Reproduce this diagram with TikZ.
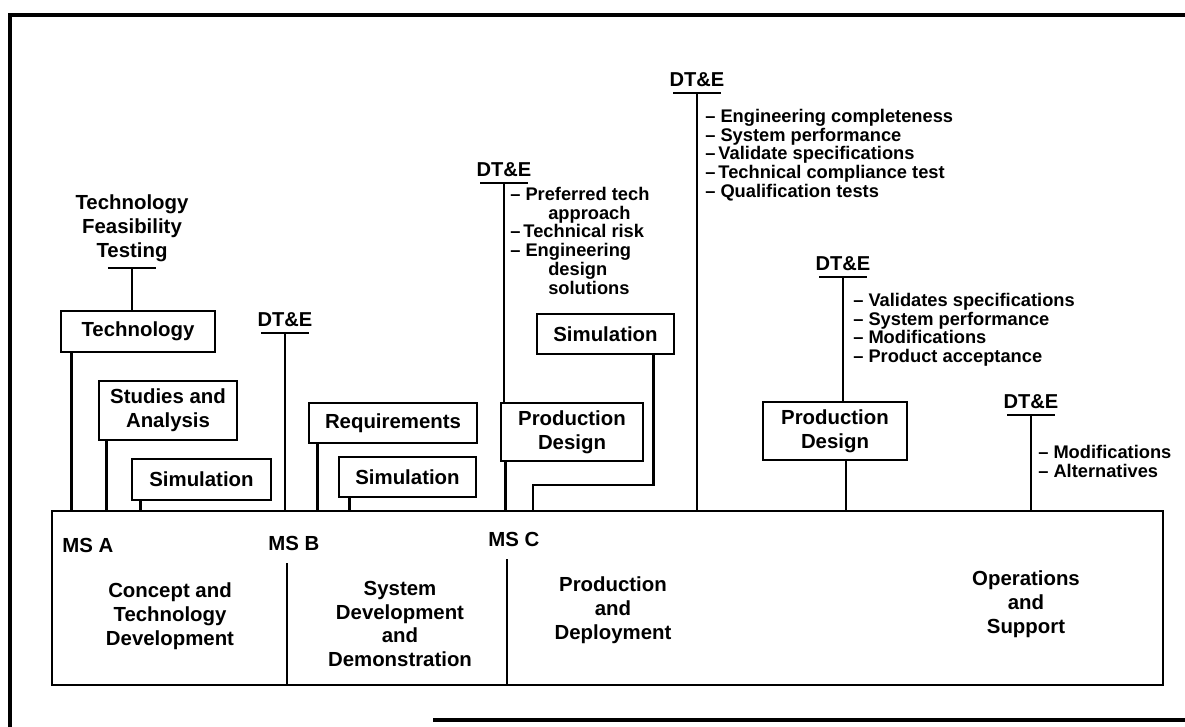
\documentclass[tikz,border=0pt]{standalone}
\usepackage{fontspec}
\setmainfont{Liberation Sans}
\usetikzlibrary{calc,positioning}

\tikzset{
	stage/.style={draw, line width=1.9pt, align=center, inner sep=0pt, font=\fontsize{14.5}{17}\selectfont\bfseries},
	phase/.style={align=center, inner sep=0pt, font=\fontsize{14.5}{17}\selectfont\bfseries},
	mslabel/.style={anchor=west, inner sep=0pt, font=\fontsize{14.5}{17}\selectfont\bfseries},
	dtelabel/.style={inner sep=0pt, font=\fontsize{14.3}{17}\selectfont\bfseries},
	notes/.style={anchor=north west, align=left, inner sep=0pt, font=\fontsize{13}{13.3}\selectfont\bfseries},
	stem/.style={line width=1.9pt},
	bar/.style={line width=2pt},
}

\begin{document}
\begin{tikzpicture}[x=0.025cm, y=-0.025cm]
	%%%%% START %%%%%
	\useasboundingbox (0,0) rectangle (1185,727);
	
	% frame
	\draw[line width=2.2pt] (10,727) -- (10,15) -- (1185,15);
	\draw[line width=2.2pt] (433,720) -- (1185,720);
	
	% life cycle
	\node[draw, line width=1.9pt, minimum width=27.775cm, minimum height=4.35cm, inner sep=0pt] (cycle) at (607.5,598) {};
	\node[mslabel] (msa) at (62,545) {MS A};
	\node[mslabel] (msb) at (268,543) {MS B};
	\node[mslabel] (msc) at (488,539) {MS C};
	\coordinate (divb) at (287,563);
	\coordinate (divc) at (507,559);
	\draw[stem] (divb) -- (divb |- cycle.south);
	\draw[stem] (divc) -- (divc |- cycle.south);
	
	\node[phase] (ctd) at (170,616) {Concept and\\Technology\\Development};
	\node[phase] (sdd) at (400,624) {System\\Development\\and\\Demonstration};
	\node[phase] (pad) at (613,610) {Production\\and\\Deployment};
	\node[phase] (oas) at (1026,604) {Operations\\and\\Support};
	
	% activities
	\node[stage, minimum width=3.85cm, minimum height=1.025cm] (tech) at (138,331.5) {Technology};
	\node[stage, minimum width=3.45cm, minimum height=1.475cm] (studies) at (168,410.5) {Studies and\\Analysis};
	\node[stage, minimum width=3.475cm, minimum height=1.025cm] (simA) at (201.5,479.5) {Simulation};
	\node[stage, minimum width=4.2cm, minimum height=1cm] (reqs) at (393,423) {Requirements};
	\node[stage, minimum width=3.425cm, minimum height=1cm] (simB) at (407.5,477) {Simulation};
	\node[stage, minimum width=3.55cm, minimum height=1.45cm] (prodA) at (572,432) {Production\\Design};
	\node[stage, minimum width=3.425cm, minimum height=1cm] (simC) at (605.5,334) {Simulation};
	\node[stage, minimum width=3.6cm, minimum height=1.45cm] (prodB) at (835,431) {Production\\Design};
	
	\draw[stem] ([xshift=0.3cm]tech.south west) -- ([xshift=0.3cm]tech.south west |- cycle.north);
	\draw[stem] ([xshift=0.225cm]studies.south west) -- ([xshift=0.225cm]studies.south west |- cycle.north);
	\draw[stem] ([xshift=0.25cm]simA.south west) -- ([xshift=0.25cm]simA.south west |- cycle.north);
	\draw[stem] ([xshift=0.25cm]reqs.south west) -- ([xshift=0.25cm]reqs.south west |- cycle.north);
	\draw[stem] ([xshift=0.3cm]simB.south west) -- ([xshift=0.3cm]simB.south west |- cycle.north);
	\draw[stem] ([xshift=0.15cm]prodA.south west) -- ([xshift=0.15cm]prodA.south west |- cycle.north);
	\draw[stem] ([xshift=0.275cm]prodB.south) -- ([xshift=0.275cm]prodB.south |- cycle.north);
	\coordinate (simCbend) at (533,485);
	\draw[stem] ([xshift=-0.55cm]simC.south east) |- (simCbend) -- (simCbend |- cycle.north);
	
	% feasibility testing
	\coordinate (tftbar) at (132,268);
	\node[phase, above=4pt of tftbar] (tft) {Technology\\Feasibility\\Testing};
	\draw[bar] ([xshift=-0.6cm]tftbar) -- ([xshift=0.6cm]tftbar);
	\draw[stem] (tftbar) -- (tftbar |- tech.north);
	
	% DT&E
	\foreach \n/\x/\y in {dteB/285/333, dteP/504/183, dteQ/697/93, dteR/843/277, dteS/1031/415} {
		\coordinate (\n) at (\x,\y);
		\node[dtelabel, above=4pt of \n] (\n-lbl) {DT\&E};
		\draw[bar] ([xshift=-0.59cm]\n) -- ([xshift=0.59cm]\n);
	}
	\draw[stem] (dteB) -- (dteB |- cycle.north);
	\draw[stem] (dteP) -- (dteP |- prodA.north);
	\draw[stem] (dteQ) -- (dteQ |- cycle.north);
	\draw[stem] (dteR) -- (dteR |- prodB.north);
	\draw[stem] (dteS) -- (dteS |- cycle.north);
	
	\node[notes] (notesP) at (510,187) {-- Preferred tech\\\hspace*{0.95cm}approach\\--\,Technical risk\\-- Engineering\\\hspace*{0.95cm}design\\\hspace*{0.95cm}solutions};
	\node[notes] (notesQ) at (705,109) {-- Engineering completeness\\-- System performance\\--\,Validate specifications\\--\,Technical compliance test\\-- Qualification tests};
	\node[notes] (notesR) at (853,293) {-- Validates specifications\\-- System performance\\-- Modifications\\-- Product acceptance};
	\node[notes] (notesS) at (1038,445) {-- Modifications\\-- Alternatives};
	
	%%%%% END %%%%%
\end{tikzpicture}
\end{document}
